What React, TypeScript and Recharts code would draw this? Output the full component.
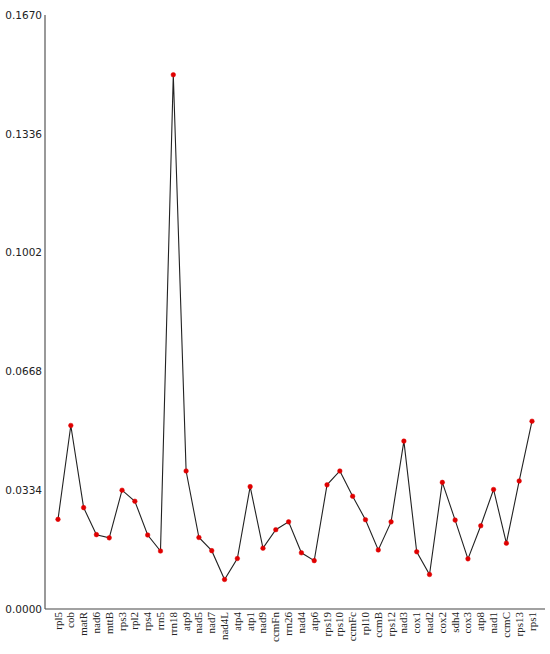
import { LineChart, Line, XAxis, YAxis } from "recharts";

const genes = [
  "rpl5", "cob", "matR", "nad6", "mttB", "rps3", "rpl2", "rps4", "rrn5", "rrn18",
  "atp9", "nad5", "nad7", "nad4L", "atp4", "atp1", "nad9", "ccmFn", "rrn26", "nad4",
  "atp6", "rps19", "rps10", "ccmFc", "rpl10", "ccmB", "rps12", "nad3", "cox1", "nad2",
  "cox2", "sdh4", "cox3", "atp8", "nad1", "ccmC", "rps13", "rps1",
];

const values = [
  0.0252, 0.0516, 0.0285, 0.0209, 0.0200, 0.0334, 0.0303, 0.0208, 0.0163, 0.1502,
  0.0388, 0.0201, 0.0164, 0.0083, 0.0142, 0.0344, 0.0171, 0.0223, 0.0245, 0.0158,
  0.0136, 0.0349, 0.0388, 0.0317, 0.0251, 0.0166, 0.0245, 0.0472, 0.0161, 0.0097,
  0.0356, 0.0250, 0.0141, 0.0234, 0.0336, 0.0185, 0.0360, 0.0528,
];

const yTicks = [0, 0.0334, 0.0668, 0.1002, 0.1336, 0.167];

const data = genes.map((g, i) => ({ gene: g, value: values[i] }));

function GeneTick(props: any) {
  const { x, y, payload } = props;
  return (
    <text
      x={x}
      y={y}
      transform={`rotate(-90, ${x}, ${y})`}
      textAnchor="end"
      dy="0.32em"
      fontFamily="'Liberation Serif', serif"
      fontSize={11}
      fill="#222"
    >
      {payload.value}
    </text>
  );
}

export default function App() {
  return (
    <div style={{ position: "absolute", left: 0, top: 0, background: "#fff" }}>
      <LineChart
        width={550}
        height={654}
        data={data}
        margin={{ top: 15, right: 5, bottom: 0, left: 0 }}
      >
        <XAxis
          dataKey="gene"
          interval={0}
          height={45}
          padding={{ left: 13, right: 13 }}
          tickLine={false}
          tickSize={0}
          tickMargin={3}
          tick={<GeneTick />}
          axisLine={{ stroke: "#444", strokeWidth: 1.2 }}
        />
        <YAxis
          width={45}
          domain={[0, 0.167]}
          ticks={yTicks}
          tickFormatter={(v: number) => v.toFixed(4)}
          tickLine={false}
          tickSize={0}
          tickMargin={3}
          tick={{ fontFamily: "'DejaVu Sans', sans-serif", fontSize: 10.5, fill: "#222" }}
          axisLine={{ stroke: "#555", strokeWidth: 1.2 }}
          allowDataOverflow
        />
        <Line
          type="linear"
          dataKey="value"
          stroke="#222"
          strokeWidth={1.1}
          dot={{ r: 2.3, fill: "#e00000", stroke: "#e00000", strokeWidth: 0.5 }}
          isAnimationActive={false}
        />
      </LineChart>
    </div>
  );
}
